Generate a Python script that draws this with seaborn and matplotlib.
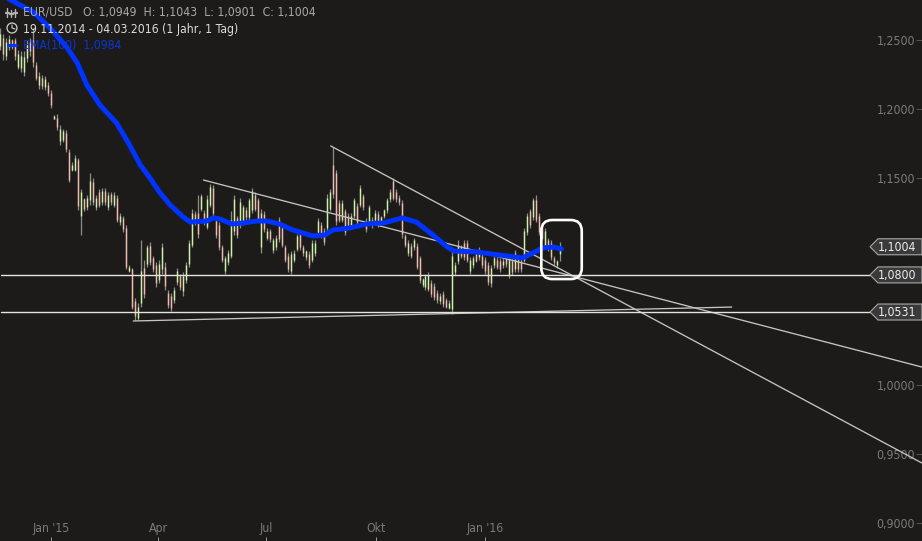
import numpy as np
import pandas as pd
import matplotlib
matplotlib.use('Agg')
import matplotlib.pyplot as plt
import matplotlib.dates as mdates
from matplotlib.lines import Line2D
from matplotlib.patches import Circle, FancyBboxPatch, Polygon
from matplotlib.transforms import IdentityTransform
import seaborn as sns

# daily candles, thinned out
START = '2014-11-19'
END = '2016-03-04'

highs = [1.259,1.255,1.252,1.254,1.251,1.252,1.243,1.242,1.242,1.250,
         1.252,1.259,1.234,1.227,1.225,1.224,1.220,1.214,1.196,1.197,
         1.189,1.186,1.185,1.171,1.162,1.167,1.165,1.142,1.136,1.138,
         1.154,1.150,1.138,1.142,1.143,1.143,1.140,1.140,1.140,1.138,
         1.125,1.123,1.116,1.087,1.085,1.063,1.060,1.105,1.091,1.102,
         1.104,1.094,1.089,1.091,1.103,1.089,1.069,1.067,1.071,1.085,
         1.081,1.082,1.089,1.105,1.128,1.126,1.138,1.139,1.127,1.138,
         1.146,1.145,1.121,1.118,1.102,1.094,1.098,1.126,1.138,1.123,
         1.136,1.131,1.129,1.136,1.143,1.140,1.136,1.128,1.126,1.114,
         1.113,1.107,1.109,1.122,1.116,1.102,1.096,1.097,1.098,1.110,
         1.111,1.102,1.098,1.097,1.105,1.105,1.121,1.118,1.114,1.139,
         1.142,1.173,1.156,1.134,1.134,1.128,1.125,1.125,1.136,1.132,
         1.145,1.139,1.121,1.131,1.122,1.127,1.126,1.123,1.128,1.136,
         1.142,1.150,1.142,1.138,1.134,1.110,1.105,1.103,1.107,1.103,
         1.094,1.078,1.081,1.082,1.076,1.074,1.069,1.067,1.068,1.063,
         1.062,1.097,1.089,1.105,1.102,1.105,1.105,1.093,1.094,1.096,
         1.100,1.096,1.093,1.089,1.087,1.094,1.093,1.092,1.092,1.094,
         1.094,1.092,1.098,1.094,1.092,1.114,1.125,1.128,1.136,1.138,
         1.125,1.116,1.114,1.107,1.105,1.094,1.091,1.104]

lows = [1.243,1.236,1.236,1.243,1.244,1.236,1.229,1.227,1.224,1.234,
        1.239,1.231,1.221,1.215,1.215,1.214,1.210,1.201,1.193,1.185,
        1.174,1.176,1.169,1.147,1.155,1.155,1.127,1.109,1.126,1.127,
        1.131,1.131,1.127,1.129,1.131,1.131,1.127,1.131,1.129,1.118,
        1.116,1.111,1.084,1.082,1.055,1.047,1.047,1.057,1.063,1.086,
        1.087,1.082,1.071,1.074,1.081,1.069,1.056,1.054,1.060,1.073,
        1.069,1.065,1.074,1.086,1.100,1.116,1.107,1.126,1.116,1.113,
        1.129,1.123,1.107,1.098,1.089,1.081,1.087,1.092,1.109,1.107,
        1.114,1.116,1.120,1.120,1.125,1.126,1.118,1.096,1.111,1.105,
        1.104,1.096,1.098,1.104,1.100,1.089,1.082,1.081,1.089,1.097,
        1.098,1.094,1.091,1.085,1.089,1.094,1.109,1.107,1.102,1.111,
        1.126,1.136,1.116,1.118,1.118,1.109,1.114,1.113,1.121,1.116,
        1.129,1.127,1.111,1.116,1.114,1.118,1.115,1.118,1.121,1.125,
        1.133,1.134,1.133,1.131,1.107,1.100,1.094,1.092,1.098,1.084,
        1.074,1.071,1.069,1.068,1.064,1.062,1.060,1.059,1.057,1.056,
        1.055,1.052,1.080,1.088,1.092,1.091,1.089,1.081,1.085,1.089,
        1.091,1.085,1.081,1.073,1.071,1.085,1.084,1.082,1.085,1.086,
        1.078,1.080,1.082,1.082,1.082,1.089,1.109,1.114,1.120,1.118,
        1.109,1.105,1.100,1.097,1.091,1.087,1.085,1.090]

opens = [1.246,1.252,1.239,1.245,1.250,1.250,1.231,1.230,1.227,1.237,
         1.249,1.250,1.232,1.218,1.223,1.216,1.218,1.212,1.193,1.194,
         1.177,1.178,1.183,1.169,1.156,1.156,1.163,1.123,1.135,1.129,
         1.134,1.147,1.129,1.140,1.133,1.141,1.129,1.139,1.131,1.136,
         1.118,1.121,1.114,1.083,1.084,1.061,1.049,1.060,1.085,1.088,
         1.101,1.092,1.087,1.076,1.084,1.086,1.067,1.065,1.062,1.075,
         1.079,1.068,1.076,1.088,1.102,1.124,1.125,1.128,1.125,1.115,
         1.131,1.143,1.119,1.116,1.100,1.083,1.089,1.094,1.112,1.121,
         1.116,1.118,1.127,1.122,1.127,1.138,1.134,1.100,1.124,1.107,
         1.112,1.098,1.100,1.120,1.114,1.100,1.094,1.083,1.091,1.099,
         1.109,1.100,1.093,1.095,1.091,1.096,1.111,1.116,1.112,1.114,
         1.128,1.160,1.154,1.132,1.120,1.126,1.123,1.115,1.123,1.130,
         1.131,1.137,1.119,1.118,1.120,1.120,1.124,1.119,1.123,1.127,
         1.135,1.148,1.140,1.136,1.132,1.108,1.096,1.101,1.100,1.101,
         1.092,1.073,1.071,1.070,1.074,1.072,1.067,1.061,1.066,1.062,
         1.056,1.055,1.082,1.090,1.100,1.103,1.103,1.083,1.087,1.095,
         1.093,1.094,1.091,1.087,1.074,1.087,1.091,1.090,1.087,1.092,
         1.080,1.090,1.084,1.092,1.090,1.091,1.111,1.126,1.122,1.134,
         1.123,1.114,1.102,1.105,1.103,1.092,1.087,1.095]

closes = [1.255,1.240,1.249,1.251,1.245,1.239,1.240,1.239,1.238,1.247,
          1.242,1.234,1.223,1.224,1.217,1.222,1.212,1.203,1.195,1.187,
          1.186,1.184,1.171,1.149,1.160,1.165,1.130,1.140,1.128,1.136,
          1.148,1.133,1.136,1.131,1.141,1.133,1.138,1.133,1.138,1.120,
          1.123,1.113,1.086,1.086,1.057,1.050,1.057,1.083,1.066,1.100,
          1.089,1.084,1.074,1.088,1.100,1.072,1.058,1.056,1.069,1.083,
          1.071,1.079,1.087,1.103,1.125,1.118,1.110,1.137,1.118,1.135,
          1.144,1.125,1.109,1.100,1.091,1.092,1.096,1.120,1.135,1.109,
          1.133,1.129,1.122,1.134,1.141,1.128,1.120,1.125,1.113,1.112,
          1.106,1.105,1.107,1.106,1.102,1.091,1.084,1.095,1.096,1.108,
          1.100,1.096,1.097,1.087,1.103,1.103,1.119,1.109,1.104,1.136,
          1.140,1.139,1.119,1.120,1.132,1.111,1.116,1.123,1.134,1.118,
          1.143,1.129,1.113,1.129,1.116,1.125,1.117,1.122,1.127,1.134,
          1.140,1.136,1.135,1.133,1.110,1.102,1.103,1.094,1.105,1.086,
          1.076,1.077,1.079,1.080,1.066,1.064,1.062,1.065,1.059,1.057,
          1.060,1.094,1.087,1.102,1.094,1.093,1.091,1.091,1.092,1.090,
          1.098,1.087,1.083,1.075,1.085,1.092,1.086,1.084,1.090,1.088,
          1.092,1.082,1.096,1.084,1.084,1.112,1.123,1.116,1.134,1.120,
          1.111,1.107,1.112,1.099,1.093,1.089,1.090,1.100]

# EMA(100), days since START and value
ema_days = [0,9,28,42,56,65,73,84,98,108,118,126,134,143,154,160,174,179,185,195,204,216,
            224,235,246,252,263,273,280,294,308,322,338,350,364,376,382,401,420,439,448,456,465,472]
ema_values = [1.2837,1.2793,1.2706,1.2590,1.2452,1.2336,1.2177,1.2032,1.1901,1.1756,1.1597,
              1.1503,1.1401,1.1307,1.1220,1.1183,1.1191,1.1213,1.1205,1.1169,1.1176,1.1191,
              1.1191,1.1169,1.1126,1.1111,1.1082,1.1089,1.1126,1.1140,1.1169,1.1176,1.1213,
              1.1183,1.1089,1.1002,1.0973,1.0966,1.0944,1.0923,1.0959,1.0995,1.1002,1.0988]

# drawn trend lines: (days since START, price) at both ends
trend_lines = [((171, 1.1488), (775, 1.0132)),
               ((278, 1.1735), (775, 0.9436)),
               ((112, 1.0466), (615, 1.0567))]

level_prices = [1.0800, 1.0531]
tag_prices = [1.1004, 1.0800, 1.0531]
tag_labels = ['1,1004', '1,0800', '1,0531']

# 1,0500 and 1,1000 sit behind the price tags in the original, no label there
ytick_values = [0.90, 0.95, 1.00, 1.05, 1.10, 1.15, 1.20, 1.25]
ytick_labels = ['0,9000', '0,9500', '1,0000', '', '', '1,1500', '1,2000', '1,2500']
xtick_dates = ['2015-01-01', '2015-04-01', '2015-07-01', '2015-10-01', '2016-01-01']
xtick_labels = ["Jan '15", 'Apr', 'Jul', 'Okt', "Jan '16"]

BG = '#1c1b1a'
GREY = '#7a7a7a'
BLUE = '#0033ff'
W, H = 922, 541

sns.set_theme(style='dark', rc={'axes.facecolor': BG, 'figure.facecolor': BG})
plt.rcParams['font.family'] = ['DejaVu Sans']
plt.rcParams['font.stretch'] = 'condensed'

fig = plt.figure(figsize=(W / 100, H / 100), dpi=100)
ax = fig.add_axes([0, 0, 1, 1])

start = pd.Timestamp(START)
bar_dates = pd.date_range(START, END, periods=len(highs))
bars = pd.DataFrame({'date': bar_dates, 'high': highs, 'low': lows, 'open': opens, 'close': closes})
up = bars[bars['close'] >= bars['open']]
down = bars[bars['close'] < bars['open']]

# wicks first, bodies on top
ax.vlines(bars['date'], bars['low'], bars['high'], color='#8c8c8c', linewidth=0.9, zorder=2)
ax.vlines(up['date'], up['open'], up['close'], color='#cdf2a6', linewidth=1.0, zorder=3)
ax.vlines(down['date'], down['open'], down['close'], color='#f3b9ad', linewidth=1.0, zorder=3)

for (d0, p0), (d1, p1) in trend_lines:
    line = pd.DataFrame({'date': [start + pd.Timedelta(days=d0), start + pd.Timedelta(days=d1)],
                         'price': [p0, p1]})
    sns.lineplot(data=line, x='date', y='price', color='#c4c4c0', linewidth=0.95, ax=ax, zorder=4)

for price in level_prices:
    ax.axhline(price, xmin=1 / W, xmax=870 / W, color='#e4e4df', linewidth=1.0, zorder=4)

ema = pd.DataFrame({'date': [start + pd.Timedelta(days=d) for d in ema_days], 'price': ema_values})
sns.lineplot(data=ema, x='date', y='price', color=BLUE, linewidth=3.6, ax=ax, zorder=5)

ax.set_xlim(start, start + pd.Timedelta(days=775))
ax.set_ylim(0.8871, 1.2793)
ax.set_xlabel('')
ax.set_ylabel('')
for s in ax.spines.values():
    s.set_visible(False)

ax.set_xticks(pd.to_datetime(xtick_dates))
ax.set_xticklabels(xtick_labels)
ax.set_yticks(ytick_values)
ax.set_yticklabels(ytick_labels, ha='right')
ax.yaxis.tick_right()
ax.tick_params(axis='x', direction='in', length=3, width=0.7, color='#9a9a9a', pad=-14,
               labelsize=8.8, labelcolor=GREY, bottom=True)
ax.tick_params(axis='y', direction='in', length=4, width=0.7, color='#555555', pad=-5,
               labelsize=8.8, labelcolor=GREY, right=True)


def to_px(date, price):
    return ax.transData.transform((mdates.date2num(date), price))


# rounded box around the last candles
x0, y0 = to_px(start + pd.Timedelta(days=455), 1.0770)
x1, y1 = to_px(start + pd.Timedelta(days=489), 1.1198)
ident = IdentityTransform()
ax.add_patch(FancyBboxPatch((x0 + 10, y0 + 10), x1 - x0 - 20, y1 - y0 - 20,
                            boxstyle='round,pad=10,rounding_size=11', transform=ident,
                            facecolor='none', edgecolor='white', linewidth=1.9, zorder=6))

# price tags on the right
for price, label in zip(tag_prices, tag_labels):
    yc = to_px(start, price)[1]
    ax.add_patch(Polygon([(870, yc), (878, yc + 8), (W, yc + 8), (W, yc - 8), (878, yc - 8)],
                         closed=True, transform=ident, facecolor='#3a3a3a',
                         edgecolor='#a8a8a8', linewidth=0.8, zorder=7))
    ax.text(897, yc - 0.5, label, transform=ident, ha='center', va='center',
            color='#ececec', fontsize=8.8, zorder=8)

# header block, the EMA line runs behind it
header = dict(transform=ident, ha='left', va='center', fontsize=8.7, zorder=10)
ax.text(23, H - 12, 'EUR/USD   O: 1,0949  H: 1,1043  L: 1,0901  C: 1,1004', color='#a8a8a8', **header)
ax.text(23, H - 29, '19.11.2014 - 04.03.2016 (1 Jahr, 1 Tag)', color='#dcdcdc', **header)
ax.text(23, H - 45, 'EMA(100)  1,0984', color='#0a36d8', **header)

# small icons in front of the header lines
for x, ya, yb in [(7, 8, 17), (11, 10, 17), (15, 9, 17)]:
    ax.add_line(Line2D([x, x], [H - ya, H - yb], transform=ident, color='#b5b5b5', linewidth=1.0, zorder=10))
    ax.add_line(Line2D([x - 1.5, x + 1.5], [H - (ya + yb) / 2] * 2, transform=ident, color='#b5b5b5', linewidth=1.6, zorder=10))
ax.add_patch(Circle((12, H - 28), 5, transform=ident, facecolor='none', edgecolor='#d0d0d0', linewidth=0.9, zorder=10))
ax.add_line(Line2D([12, 12, 15], [H - 25, H - 28, H - 29], transform=ident, color='#d0d0d0', linewidth=0.8, zorder=10))
ax.add_line(Line2D([8, 16], [H - 45, H - 45], transform=ident, color=BLUE, linewidth=2.2, zorder=10))

fig.savefig('out.png', dpi=100, facecolor=BG)
